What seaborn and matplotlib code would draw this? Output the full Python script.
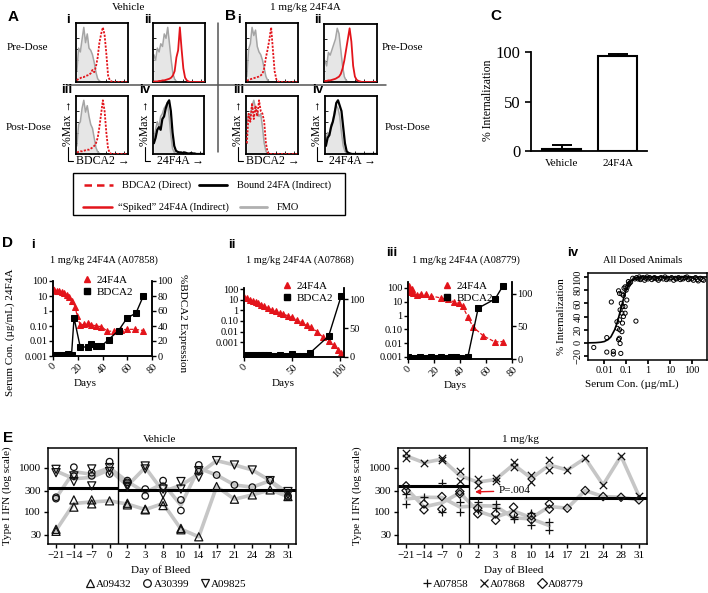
import warnings
warnings.filterwarnings("ignore")
import numpy as np
import pandas as pd
import matplotlib
matplotlib.use("Agg")
import matplotlib.pyplot as plt
from matplotlib.lines import Line2D
from matplotlib.patches import Rectangle
from matplotlib.ticker import FixedLocator, NullLocator
import seaborn as sns

# ---------------- data ----------------
# Panel A/B flow histograms (% of max per bin)
hist_bins = list(range(30))
A_i_fmo = [20, 62, 55, 78, 100, 72, 88, 62, 58, 50, 36, 18, 6, 2] + [0] * 16
A_i_bdca2 = [3, 6, 7, 9, 9, 11, 12, 13, 16, 22, 18, 28, 45, 72, 88, 100, 86, 52, 12, 3, 1] + [0] * 9
A_ii_fmo = [50, 40, 62, 55, 70, 65, 88, 80, 100, 70, 40, 15, 5, 1] + [0] * 16
A_ii_spiked = [1, 1, 1, 2, 2, 3, 3, 4, 5, 6, 8, 12, 20, 45, 58, 100, 60, 25, 8, 3, 1] + [0] * 9
A_iii_fmo = [15, 55, 60, 85, 100, 78, 90, 70, 55, 48, 30, 12, 4, 1] + [0] * 16
A_iii_bdca2 = [3, 4, 5, 5, 6, 7, 8, 8, 10, 12, 15, 20, 30, 50, 75, 100, 80, 40, 10, 2] + [0] * 10
A_iv_fmo = [30, 45, 60, 50, 70, 75, 85, 90, 95, 70, 35, 10, 3, 1] + [0] * 16
A_iv_bound = [20, 30, 45, 50, 45, 65, 70, 85, 95, 100, 80, 40, 15, 6, 4, 3, 3, 2, 3, 2, 1, 1, 2, 1, 1] + [0] * 5
B_i_fmo = [10, 60, 70, 100, 85, 95, 65, 55, 50, 40, 25, 10, 3] + [0] * 17
B_i_bdca2 = [2, 4, 5, 6, 7, 8, 9, 10, 12, 15, 25, 45, 60, 78, 100, 60, 20, 5, 1] + [0] * 11
B_ii_fmo = [40, 30, 55, 50, 60, 70, 80, 100, 90, 60, 30, 10, 3] + [0] * 17
B_ii_spiked = [2, 2, 3, 3, 4, 5, 6, 8, 10, 15, 25, 40, 60, 80, 100, 75, 30, 10, 4, 2, 1] + [0] * 9
B_iii_fmo = [60, 75, 70, 90, 100, 85, 80, 70, 75, 50, 20, 5, 1] + [0] * 17
B_iii_bdca2 = [20, 75, 60, 95, 65, 90, 70, 100, 80, 75, 60, 20, 3] + [0] * 17
B_iv_fmo = [25, 40, 35, 55, 60, 80, 90, 85, 70, 40, 15, 5, 1] + [0] * 17
B_iv_bound = [15, 30, 35, 50, 60, 75, 95, 100, 90, 80, 50, 20, 5, 2, 1] + [0] * 15

# Panel C
c_groups = ["Vehicle", "24F4A"]
c_means = [2, 96]
c_err = [4, 1.5]

# Panel D i (A07858)
di_days_24 = [0, 1, 3, 5, 7, 9, 11, 13, 15, 18, 19.5, 22, 25, 28, 31, 35, 39, 44, 49, 55, 60, 66, 73]
di_24f4a = [30, 24, 22, 20, 18, 15, 12, 9, 5, 1.8, 0.47, 0.11, 0.13, 0.15, 0.12, 0.1, 0.09, 0.045, 0.045, 0.055, 0.06, 0.06, 0.05]
di_days_bd = [0, 3, 6, 9, 12, 15, 17, 22, 28, 31, 35, 39, 45, 53, 60, 67, 73]
di_bdca2 = [2, 1.5, 2, 2, 2.5, 2, 51, 12, 12, 16, 13, 13, 22, 34, 51, 57, 80]
# Panel D ii (A07868)
dii_days_24 = [0, 3, 6, 9, 12, 15, 18, 21, 25, 29, 33, 37, 41, 46, 50, 55, 60, 65, 70, 76, 82, 88, 94, 98, 101]
dii_24f4a = [20, 14, 10, 8, 6, 4.5, 3.5, 2.5, 1.6, 1.1, 0.8, 0.6, 0.45, 0.3, 0.22, 0.13, 0.08, 0.04, 0.025, 0.01, 0.003, 0.0012, 0.0005, 0.0002, 0.0001]
dii_days_bd = [0, 3, 6, 9, 12, 15, 18, 21, 25, 29, 33, 37, 41, 46, 50, 55, 60, 64, 69, 88, 101]
dii_bdca2 = [3, 2, 3, 2, 3, 2, 3, 4, 3, 2, 2, 3, 2, 2, 5, 2, 2, 2, 7.5, 36, 105]
# Panel D iii (A08779)
diii_days_24 = [0, 0.5, 1, 2, 3, 4, 7, 10, 14, 18, 25, 31, 35, 39, 42, 46, 50, 58, 67, 73]
diii_24f4a = [100, 60, 140, 50, 80, 41, 31, 36, 35, 26, 19, 15, 10, 7.6, 4.6, 0.8, 0.15, 0.033, 0.012, 0.013]
diii_days_bd = [0, 3, 6, 9, 12, 15, 18, 21, 25, 29, 33, 37, 41, 46, 54, 67, 73]
diii_bdca2 = [3, 2, 2, 3, 2, 2, 3, 2, 3, 2, 3, 3, 2, 3, 78, 92, 112]
# Panel D iv (all dosed animals)
div_conc = [0.0033, 0.013, 0.013, 0.026, 0.026, 0.021, 0.057, 0.049, 0.053, 0.045, 0.05, 0.064,
            0.075, 0.053, 0.064, 0.05, 0.05, 0.068, 0.075, 0.09, 0.107, 0.11, 0.09, 0.127, 0.14,
            0.09, 0.07, 0.127, 0.16, 0.064, 0.038, 0.04, 0.28, 0.1, 0.08, 0.2, 0.25, 0.045, 0.06,
            0.3, 0.35, 0.4, 0.45, 0.5, 0.6, 0.7, 0.8, 0.9, 1.0, 1.2, 1.5, 1.8, 2, 2.5, 3, 3.5, 4,
            5, 6, 7, 8, 10, 12, 15, 18, 20, 25, 30, 35, 40, 50, 60, 70, 80, 100, 120, 150, 180,
            200, 250, 300, 350]
div_intern = [-7, 8, -14, -13, -17, 62, -16, 7, -1, 79, 75, 74,
              72, 50, 45, 35, 20, 30, 40, 55, 65, 84, 85, 88, 90,
              45, 55, 93, 92, 17, 32, 22, 33, 80, 83, 98, 97, 5, 60,
              99, 97, 100, 96, 98, 99, 95, 98, 100, 97, 99, 96, 98, 99, 97, 95, 98, 99,
              97, 100, 96, 98, 97, 99, 95, 98, 97, 99, 96, 98, 97, 99, 100, 96, 98, 97, 95, 99,
              96, 94, 98, 96, 95]
div_fit_conc = [0.0018, 0.004, 0.007, 0.01, 0.015, 0.02, 0.03, 0.04, 0.05, 0.06, 0.08, 0.1, 0.13,
                0.17, 0.22, 0.3, 0.5, 1, 10, 500]
div_fit_pct = [0, 0.3, 1, 2, 5, 9, 20, 32, 44, 54, 70, 80, 88, 94, 97, 99, 100, 100, 100, 100]

# Panel E (Type I IFN, two replicates per bleed)
e_day_labels = ["\u221221", "\u221214", "\u22127", "0", "2", "3", "8", "10", "14", "17", "21", "24", "28", "31"]
nan = np.nan
A09432_r1 = [40, 187, 187, 178, 157, 115, 172, 42, 27, 377, 194, 243, 316, 223]
A09432_r2 = [36, 128, 152, nan, 144, 111, 139, 39, nan, nan, nan, nan, nan, nan]
A30399_r1 = [215, 1040, 780, 1390, 515, 330, 515, 187, 1170, 690, 410, 365, 515, 230]
A30399_r2 = [200, 650, 660, 730, 470, 230, 380, 107, 825, nan, nan, nan, nan, 220]
A09825_r1 = [930, 660, 950, 1020, 410, 1110, 330, 490, 870, 1470, 1170, 900, 515, 290]
A09825_r2 = [780, 490, 390, 830, 375, 950, 255, 330, 615, nan, nan, nan, nan, 250]
A07858_r1 = [256, 215, 465, 172, 172, 152, 78, 94, 60, nan, nan, nan, nan, nan]
A07858_r2 = [152, nan, 97, 97, 111, 121, 68, 51, 39, nan, nan, nan, nan, nan]
A07868_r1 = [2150, 1320, 1660, 870, 550, 580, 1390, 690, 1520, 900, 1660, 410, 1870, 230]
A07868_r2 = [1660, nan, 1520, 515, 410, 515, 1030, 490, 900, nan, nan, nan, nan, nan]
A08779_r1 = [390, 152, 223, 290, 121, 90, 128, 81, 152, 121, 306, 223, 215, 187]
A08779_r2 = [306, 111, 115, 256, 90, 64, 86, 66, 115, nan, nan, nan, nan, nan]
vehicle_pre_mean, vehicle_post_mean = 350, 315
dosed_pre_mean, dosed_post_mean = 390, 212

# ---------------- setup ----------------
sns.set_theme(style="ticks")
plt.rcParams['font.family'] = ['Liberation Serif', 'DejaVu Serif']
plt.rcParams['axes.edgecolor'] = 'black'
plt.rcParams['xtick.color'] = 'black'
plt.rcParams['ytick.color'] = 'black'
plt.rcParams['text.color'] = 'black'

W, H = 708, 593
fig = plt.figure(figsize=(W / 100, H / 100), dpi=100)
fig.patch.set_facecolor('white')


def add_ax(x0, y0, x1, y1):
    return fig.add_axes([x0 / W, 1 - y1 / H, (x1 - x0) / W, (y1 - y0) / H])


def ftxt(x, y, s, **kw):
    kw.setdefault('ha', 'center')
    kw.setdefault('va', 'center')
    kw.setdefault('fontsize', 8)
    fig.text(x / W, 1 - y / H, s, **kw)


def fline(xs, ys, **kw):
    fig.add_artist(Line2D([x / W for x in xs], [1 - y / H for y in ys], **kw))


SANS = ['Liberation Sans', 'DejaVu Sans']
RED = '#e3141b'

# ---------------- panels A / B ----------------
def hist_panel(rect, fmo, other, color, ls, lw=1.3):
    ax = add_ax(*rect)
    ax.fill_between(hist_bins, fmo, color='#e6e6e6', lw=0, zorder=1)
    sns.lineplot(x=hist_bins, y=fmo, color='#a5a5a5', lw=1.1, ax=ax, zorder=2)
    sns.lineplot(x=hist_bins, y=other, color=color, lw=lw, linestyle=ls, ax=ax, zorder=3)
    ax.set_xlim(-0.5, 29.5)
    ax.set_ylim(0, 108)
    ax.set_xticks([2, 7, 12, 17, 22, 27])
    ax.set_yticks([20, 40, 60, 80])
    ax.tick_params(length=2, width=0.6, direction='in', labelbottom=False, labelleft=False)
    for s in ax.spines.values():
        s.set_linewidth(1.3)
        s.set_visible(True)
    ax.set_xlabel('')
    ax.set_ylabel('')
    return ax


dot = (0, (1.2, 0.8))
hist_panel((76, 23, 128, 82), A_i_fmo, A_i_bdca2, RED, dot)
hist_panel((153, 23, 205, 82), A_ii_fmo, A_ii_spiked, RED, '-')
hist_panel((76, 96, 128, 154), A_iii_fmo, A_iii_bdca2, RED, dot)
hist_panel((153, 96, 204, 154), A_iv_fmo, A_iv_bound, 'black', '-', 1.6)
hist_panel((246, 23, 298, 82), B_i_fmo, B_i_bdca2, RED, dot)
hist_panel((324, 24, 377, 82), B_ii_fmo, B_ii_spiked, RED, '-')
hist_panel((246, 96, 298, 154), B_iii_fmo, B_iii_bdca2, RED, dot)
hist_panel((325, 96, 377, 154), B_iv_fmo, B_iv_bound, 'black', '-', 1.6)

ftxt(13, 17, 'A', fontsize=11, fontweight='bold', family=SANS)
ftxt(231, 16, 'B', fontsize=11, fontweight='bold', family=SANS)
for (x, y, s) in [(68, 20, 'i'), (148, 20, 'ii'), (67, 90, 'iii'), (145, 90, 'iv'),
                  (239, 20, 'i'), (318, 20, 'ii'), (239, 90, 'iii'), (318, 90, 'iv')]:
    ftxt(x, y, s, fontsize=9.5, fontweight='bold', family=SANS)
ftxt(129, 8, 'Vehicle', fontsize=8)
ftxt(305, 8, '1 mg/kg 24F4A', fontsize=8)
ftxt(27, 48, 'Pre-Dose', fontsize=8)
ftxt(29, 127, 'Post-Dose', fontsize=8)
ftxt(402, 48, 'Pre-Dose', fontsize=8)
ftxt(408, 127, 'Post-Dose', fontsize=8)

# separators
fline([67, 386], [85, 85], color='#555555', lw=1.1)
fline([218, 218], [23, 152], color='#555555', lw=1.1)

# axis annotations for post-dose histograms
for bx, lab, lx in [(76, 'BDCA2', 103), (153, '24F4A', 180), (246, 'BDCA2', 273), (325, '24F4A', 352)]:
    ftxt(bx - 8, 123, '%Max \u2192', rotation=90, fontsize=8.5)
    ftxt(lx, 161, lab + ' \u2192', fontsize=8.5)
    fline([bx - 8, bx - 8, bx - 3], [147, 161, 161], color='black', lw=0.8)

# legend box
fig.add_artist(Rectangle((73 / W, 1 - 215 / H), (345 - 73) / W, (215 - 173) / H,
                         fill=False, edgecolor='black', lw=1.0))
fline([84, 113], [185, 185], color=RED, lw=1.8, ls=(0, (3, 2)))
ftxt(122, 185, 'BDCA2 (Direct)', ha='left', fontsize=7.5)
fline([199, 227], [185, 185], color='black', lw=2)
ftxt(237, 185, 'Bound 24FA (Indirect)', ha='left', fontsize=7.5)
fline([83, 112], [207, 207], color=RED, lw=1.8)
ftxt(118, 207, '\u201cSpiked\u201d 24F4A (Indirect)', ha='left', fontsize=7.5)
fline([240, 267], [207, 207], color='#b0b0b0', lw=2)
ftxt(277, 207, 'FMO', ha='left', fontsize=7.5)

# ---------------- panel C ----------------
axC = add_ax(531, 52, 647, 151)
dfc = pd.DataFrame({'group': c_groups, 'pct': c_means})
sns.barplot(data=dfc, x='group', y='pct', color='white', edgecolor='black', linewidth=1.5,
            width=0.7, errorbar=None, saturation=1, ax=axC)
axC.errorbar([0, 1], c_means, yerr=[[0, 0], c_err], fmt='none', ecolor='black',
             elinewidth=1.4, capsize=7, capthick=1.4)
axC.set_xlim(-0.55, 1.52)
axC.set_ylim(0, 100)
axC.set_yticks([0, 50, 100])
axC.tick_params(axis='y', labelsize=12, length=4, width=1.2)
axC.tick_params(axis='x', labelsize=8, length=0, pad=6)
sns.despine(ax=axC)
for s in ('left', 'bottom'):
    axC.spines[s].set_linewidth(1.3)
axC.set_xlabel('')
axC.set_ylabel('')
ftxt(496, 16, 'C', fontsize=11, fontweight='bold', family=SANS)
ftxt(488, 100, '% Internalization', rotation=90, fontsize=8.5)

# ---------------- panel D ----------------
log_ticks = [0.001, 0.01, 0.1, 1, 10, 100]
log_labels = ['0.001', '0.01', '0.10', '1', '10', '100']


def d_panel(rect, d24, v24, dbd, vbd, ylim_l, ylim_r, xlim, xticks, rticks):
    ax = add_ax(*rect)
    ax2 = ax.twinx()
    sns.lineplot(x=d24, y=v24, ax=ax, color=RED, lw=0.9, linestyle=(0, (3, 1.5)), marker='^',
                 markersize=3.8, markeredgecolor=RED, markerfacecolor=RED, zorder=3)
    sns.lineplot(x=dbd, y=vbd, ax=ax2, color='black', lw=1.0, marker='s',
                 markersize=4, markeredgecolor='black', markerfacecolor='black')
    ax.set_yscale('log')
    ax.set_ylim(*ylim_l)
    ax.yaxis.set_major_locator(FixedLocator(log_ticks))
    ax.set_yticklabels(log_labels)
    ax.yaxis.set_minor_locator(NullLocator())
    ax2.set_ylim(*ylim_r)
    ax2.set_yticks(rticks)
    ax.set_xlim(*xlim)
    ax.set_xticks(xticks)
    ax.tick_params(axis='x', labelsize=7.5, length=3, width=1, rotation=45, pad=1)
    ax.tick_params(axis='y', labelsize=7.5, length=3, width=1, pad=1)
    ax2.tick_params(axis='y', labelsize=7.5, length=3, width=1, pad=1)
    for a in (ax, ax2):
        a.spines['top'].set_visible(False)
        for s in ('left', 'right', 'bottom'):
            a.spines[s].set_linewidth(1.1)
        a.set_xlabel('')
        a.set_ylabel('')
    ax2.set_xlim(*xlim)
    return ax, ax2


d_panel((53, 281, 152, 356), di_days_24, di_24f4a, di_days_bd, di_bdca2,
        (0.001, 100), (0, 100), (0, 80), [0, 20, 40, 60, 80], [0, 20, 40, 60, 80, 100])
d_panel((244, 288, 344, 357), dii_days_24, dii_24f4a, dii_days_bd, dii_bdca2,
        (4e-5, 130), (0, 119), (0, 104), [0, 50, 100], [0, 50, 100])
d_panel((408, 282, 512, 359), diii_days_24, diii_24f4a, diii_days_bd, diii_bdca2,
        (0.0007, 270), (0, 118), (0, 80), [0, 20, 40, 60, 80], [0, 50, 100])

d_handles = [Line2D([], [], marker='^', color=RED, ls='none', ms=4.5),
             Line2D([], [], marker='s', color='black', ls='none', ms=4.5)]
for lx, ly in [(83, 275), (283, 281), (443, 281)]:
    fig.legend(d_handles, ['24F4A', 'BDCA2'], loc='upper left',
               bbox_to_anchor=(lx / W, 1 - ly / H), borderaxespad=0, borderpad=0,
               handlelength=0.8, handletextpad=0.4, labelspacing=0.25, frameon=False, fontsize=8)

ftxt(7, 243, 'D', fontsize=11, fontweight='bold', family=SANS)
ftxt(33, 245, 'i', fontsize=9.5, fontweight='bold', family=SANS)
ftxt(232, 245, 'ii', fontsize=9.5, fontweight='bold', family=SANS)
ftxt(392, 253, 'iii', fontsize=9.5, fontweight='bold', family=SANS)
ftxt(573, 253, 'iv', fontsize=9.5, fontweight='bold', family=SANS)
ftxt(104, 260, '1 mg/kg 24F4A (A07858)', fontsize=7.5)
ftxt(300, 260, '1 mg/kg 24F4A (A07868)', fontsize=7.5)
ftxt(466, 260, '1 mg/kg 24F4A (A08779)', fontsize=7.5)
ftxt(643, 260, 'All Dosed Animals', fontsize=7.5)
ftxt(10, 332, 'Serum Con. (\u00b5g/mL) 24F4A', rotation=90, fontsize=8)
ftxt(182, 323, '%BDCA2 Expression', rotation=-90, fontsize=8)
ftxt(85, 383, 'Days', fontsize=8)
ftxt(283, 383, 'Days', fontsize=8)
ftxt(455, 386, 'Days', fontsize=8)

# D iv
axD4 = add_ax(588, 273, 707, 360)
sns.scatterplot(x=div_conc, y=div_intern, marker='o', s=9, facecolor='none',
                edgecolor='black', linewidth=0.7, ax=axD4, zorder=3)
sns.lineplot(x=div_fit_conc, y=div_fit_pct, color='black', lw=1.2, ax=axD4, zorder=2)
axD4.set_xscale('log')
axD4.set_xlim(0.0018, 500)
axD4.set_ylim(-26, 106)
axD4.xaxis.set_major_locator(FixedLocator([0.01, 0.1, 1, 10, 100]))
axD4.set_xticklabels(['0.01', '0.1', '1', '10', '100'])
axD4.xaxis.set_minor_locator(NullLocator())
axD4.set_yticks([-20, 0, 20, 40, 60, 80, 100])
axD4.tick_params(axis='y', labelsize=7.5, length=3, pad=1)
axD4.tick_params(axis='x', labelsize=7.5, length=3, pad=1)
for lab in axD4.get_yticklabels():
    lab.set_rotation(90)
    lab.set_va('center')
for s in axD4.spines.values():
    s.set_linewidth(1.1)
axD4.set_xlabel('')
axD4.set_ylabel('')
ftxt(562, 317, '% Internalization', rotation=90, fontsize=8)
ftxt(632, 384, 'Serum Con. (\u00b5g/mL)', fontsize=8)

# ---------------- panel E ----------------
def e_panel(rect, series, pre_mean, post_mean):
    ax = add_ax(*rect)
    pos = np.arange(len(e_day_labels))
    for r1, r2, marker, size in series:
        stack = np.vstack([np.array(r1, float), np.array(r2, float)])
        gm = np.exp(np.nanmean(np.log(stack), axis=0))
        sns.lineplot(x=pos, y=gm, color='#c6c6c6', lw=2.6, ax=ax, zorder=1)
    ax.hlines(pre_mean, -0.45, 3.5, color='black', lw=2.2, zorder=2)
    ax.hlines(post_mean, 3.5, 13.45, color='black', lw=2.2, zorder=2)
    ax.axvline(3.5, color='black', lw=1.0, zorder=2)
    for r1, r2, marker, size in series:
        for reps in (r1, r2):
            arr = np.array(reps, float)
            m = ~np.isnan(arr)
            kws = dict(marker=marker, s=size, linewidth=0.9, ax=ax, zorder=3)
            if marker in ('+', 'x'):
                kws.update(color='#111111')
            else:
                kws.update(facecolor='none', edgecolor='#111111')
            sns.scatterplot(x=pos[m], y=arr[m], **kws)
    ax.set_yscale('log')
    ax.set_ylim(18.5, 2850)
    ax.yaxis.set_major_locator(FixedLocator([30, 100, 300, 1000]))
    ax.set_yticklabels(['30', '100', '300', '1000'])
    ax.yaxis.set_minor_locator(NullLocator())
    ax.set_xlim(-0.45, 13.45)
    ax.set_xticks(pos)
    ax.set_xticklabels(e_day_labels)
    ax.tick_params(labelsize=8, length=3, width=1, pad=2)
    for s in ax.spines.values():
        s.set_linewidth(1.1)
    ax.set_xlabel('')
    ax.set_ylabel('')
    return ax


e_panel((48, 448, 296, 544),
        [(A09432_r1, A09432_r2, '^', 34), (A30399_r1, A30399_r2, 'o', 22),
         (A09825_r1, A09825_r2, 'v', 34)], vehicle_pre_mean, vehicle_post_mean)
axE2 = e_panel((398, 448, 647, 544),
               [(A07858_r1, A07858_r2, '+', 36), (A07868_r1, A07868_r2, 'x', 28),
                (A08779_r1, A08779_r2, 'D', 18)], dosed_pre_mean, dosed_post_mean)
axE2.annotate('P=.004', xy=(3.85, 285), xytext=(5.15, 300), fontsize=8, ha='left', va='center',
              arrowprops=dict(arrowstyle='-|>', color=RED, lw=1.0, mutation_scale=7,
                              shrinkA=1, shrinkB=0), zorder=5)

ftxt(8, 438, 'E', fontsize=11, fontweight='bold', family=SANS)
ftxt(160, 439, 'Vehicle', fontsize=8)
ftxt(521, 439, '1 mg/kg', fontsize=8)
ftxt(7, 496, 'Type I IFN (log scale)', rotation=90, fontsize=8)
ftxt(357, 496, 'Type I IFN (log scale)', rotation=90, fontsize=8)
ftxt(161, 570, 'Day of Bleed', fontsize=8)
ftxt(514, 570, 'Day of Bleed', fontsize=8)


def mk(marker):
    if marker in ('+', 'x'):
        return Line2D([], [], marker=marker, color='#111111', ls='none', ms=6, mew=0.9)
    return Line2D([], [], marker=marker, mfc='none', mec='#111111', ls='none', ms=5.5, mew=0.9)


fig.legend([mk('^'), mk('o'), mk('v')], ['A09432', 'A30399', 'A09825'], loc='center',
           bbox_to_anchor=(166 / W, 1 - 584 / H), ncol=3, frameon=False, fontsize=8,
           handlelength=0.8, handletextpad=0.15, columnspacing=1.0, borderaxespad=0, borderpad=0)
fig.legend([mk('+'), mk('x'), mk('D')], ['A07858', 'A07868', 'A08779'], loc='center',
           bbox_to_anchor=(503 / W, 1 - 584 / H), ncol=3, frameon=False, fontsize=8,
           handlelength=0.8, handletextpad=0.15, columnspacing=1.0, borderaxespad=0, borderpad=0)

fig.savefig('out.png', dpi=100, facecolor='white')
